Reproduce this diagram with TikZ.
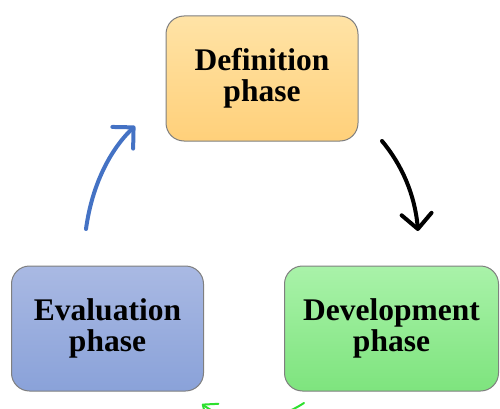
\documentclass[tikz,border=0pt]{standalone}
\usepackage{fontspec}
\setmainfont{Liberation Serif}
\usetikzlibrary{arrows.meta}
\definecolor{defTop}{HTML}{FFE3A6}
\definecolor{defBot}{HTML}{FFD07A}
\definecolor{evaTop}{HTML}{A9B9E3}
\definecolor{evaBot}{HTML}{8AA2D9}
\definecolor{devTop}{HTML}{A9F2A9}
\definecolor{devBot}{HTML}{7EE47E}
\definecolor{edge}{HTML}{7F7F7F}
\definecolor{blueArrow}{HTML}{4472C4}
\definecolor{greenArrow}{HTML}{2EE02E}
\tikzset{
  phase/.style={draw=edge, line width=1pt, rounded corners=18pt,
    minimum width=192pt, minimum height=125pt, align=center,
    font=\bfseries\fontsize{31.5}{31}\selectfont, inner sep=0pt},
  cyc/.style={line width=4pt, line cap=round,
    -{Straight Barb[length=15pt, width=30pt, line width=4pt, round]}},
}
\begin{document}
\begin{tikzpicture}[x=1pt, y=-1pt]
  \useasboundingbox (0,0) rectangle (500,409);
  \clip (0,0) rectangle (500,409);
  % the three phase boxes
  \node[phase, top color=defTop, bottom color=defBot] (def) at (262,78.5) {Definition\\phase};
  \node[phase, top color=evaTop, bottom color=evaBot] (eva) at (107.5,328.5) {Evaluation\\phase};
  \node[phase, minimum width=214pt, top color=devTop, bottom color=devBot] (dev) at (391.5,328.5) {Development\\phase};
  % cycle arrows
  \coordinate (bS) at (86,229);
  \coordinate (bE) at (135,126);
  \draw[cyc, draw=blueArrow] (bS) .. controls (92,185) and (110,150) .. (bE);
  \coordinate (kS) at (382,141);
  \coordinate (kE) at (418,231);
  \draw[cyc, draw=black] (kS) .. controls (402,165) and (415,195) .. (kE);
  \coordinate (gS) at (304,403);
  \coordinate (gE) at (202,404);
  \draw[draw=greenArrow, line width=2pt, line cap=round,
    -{Straight Barb[length=12pt, width=20pt, line width=2pt, round]}]
    (gS) .. controls (270,425) and (230,425) .. (gE);
\end{tikzpicture}
\end{document}
